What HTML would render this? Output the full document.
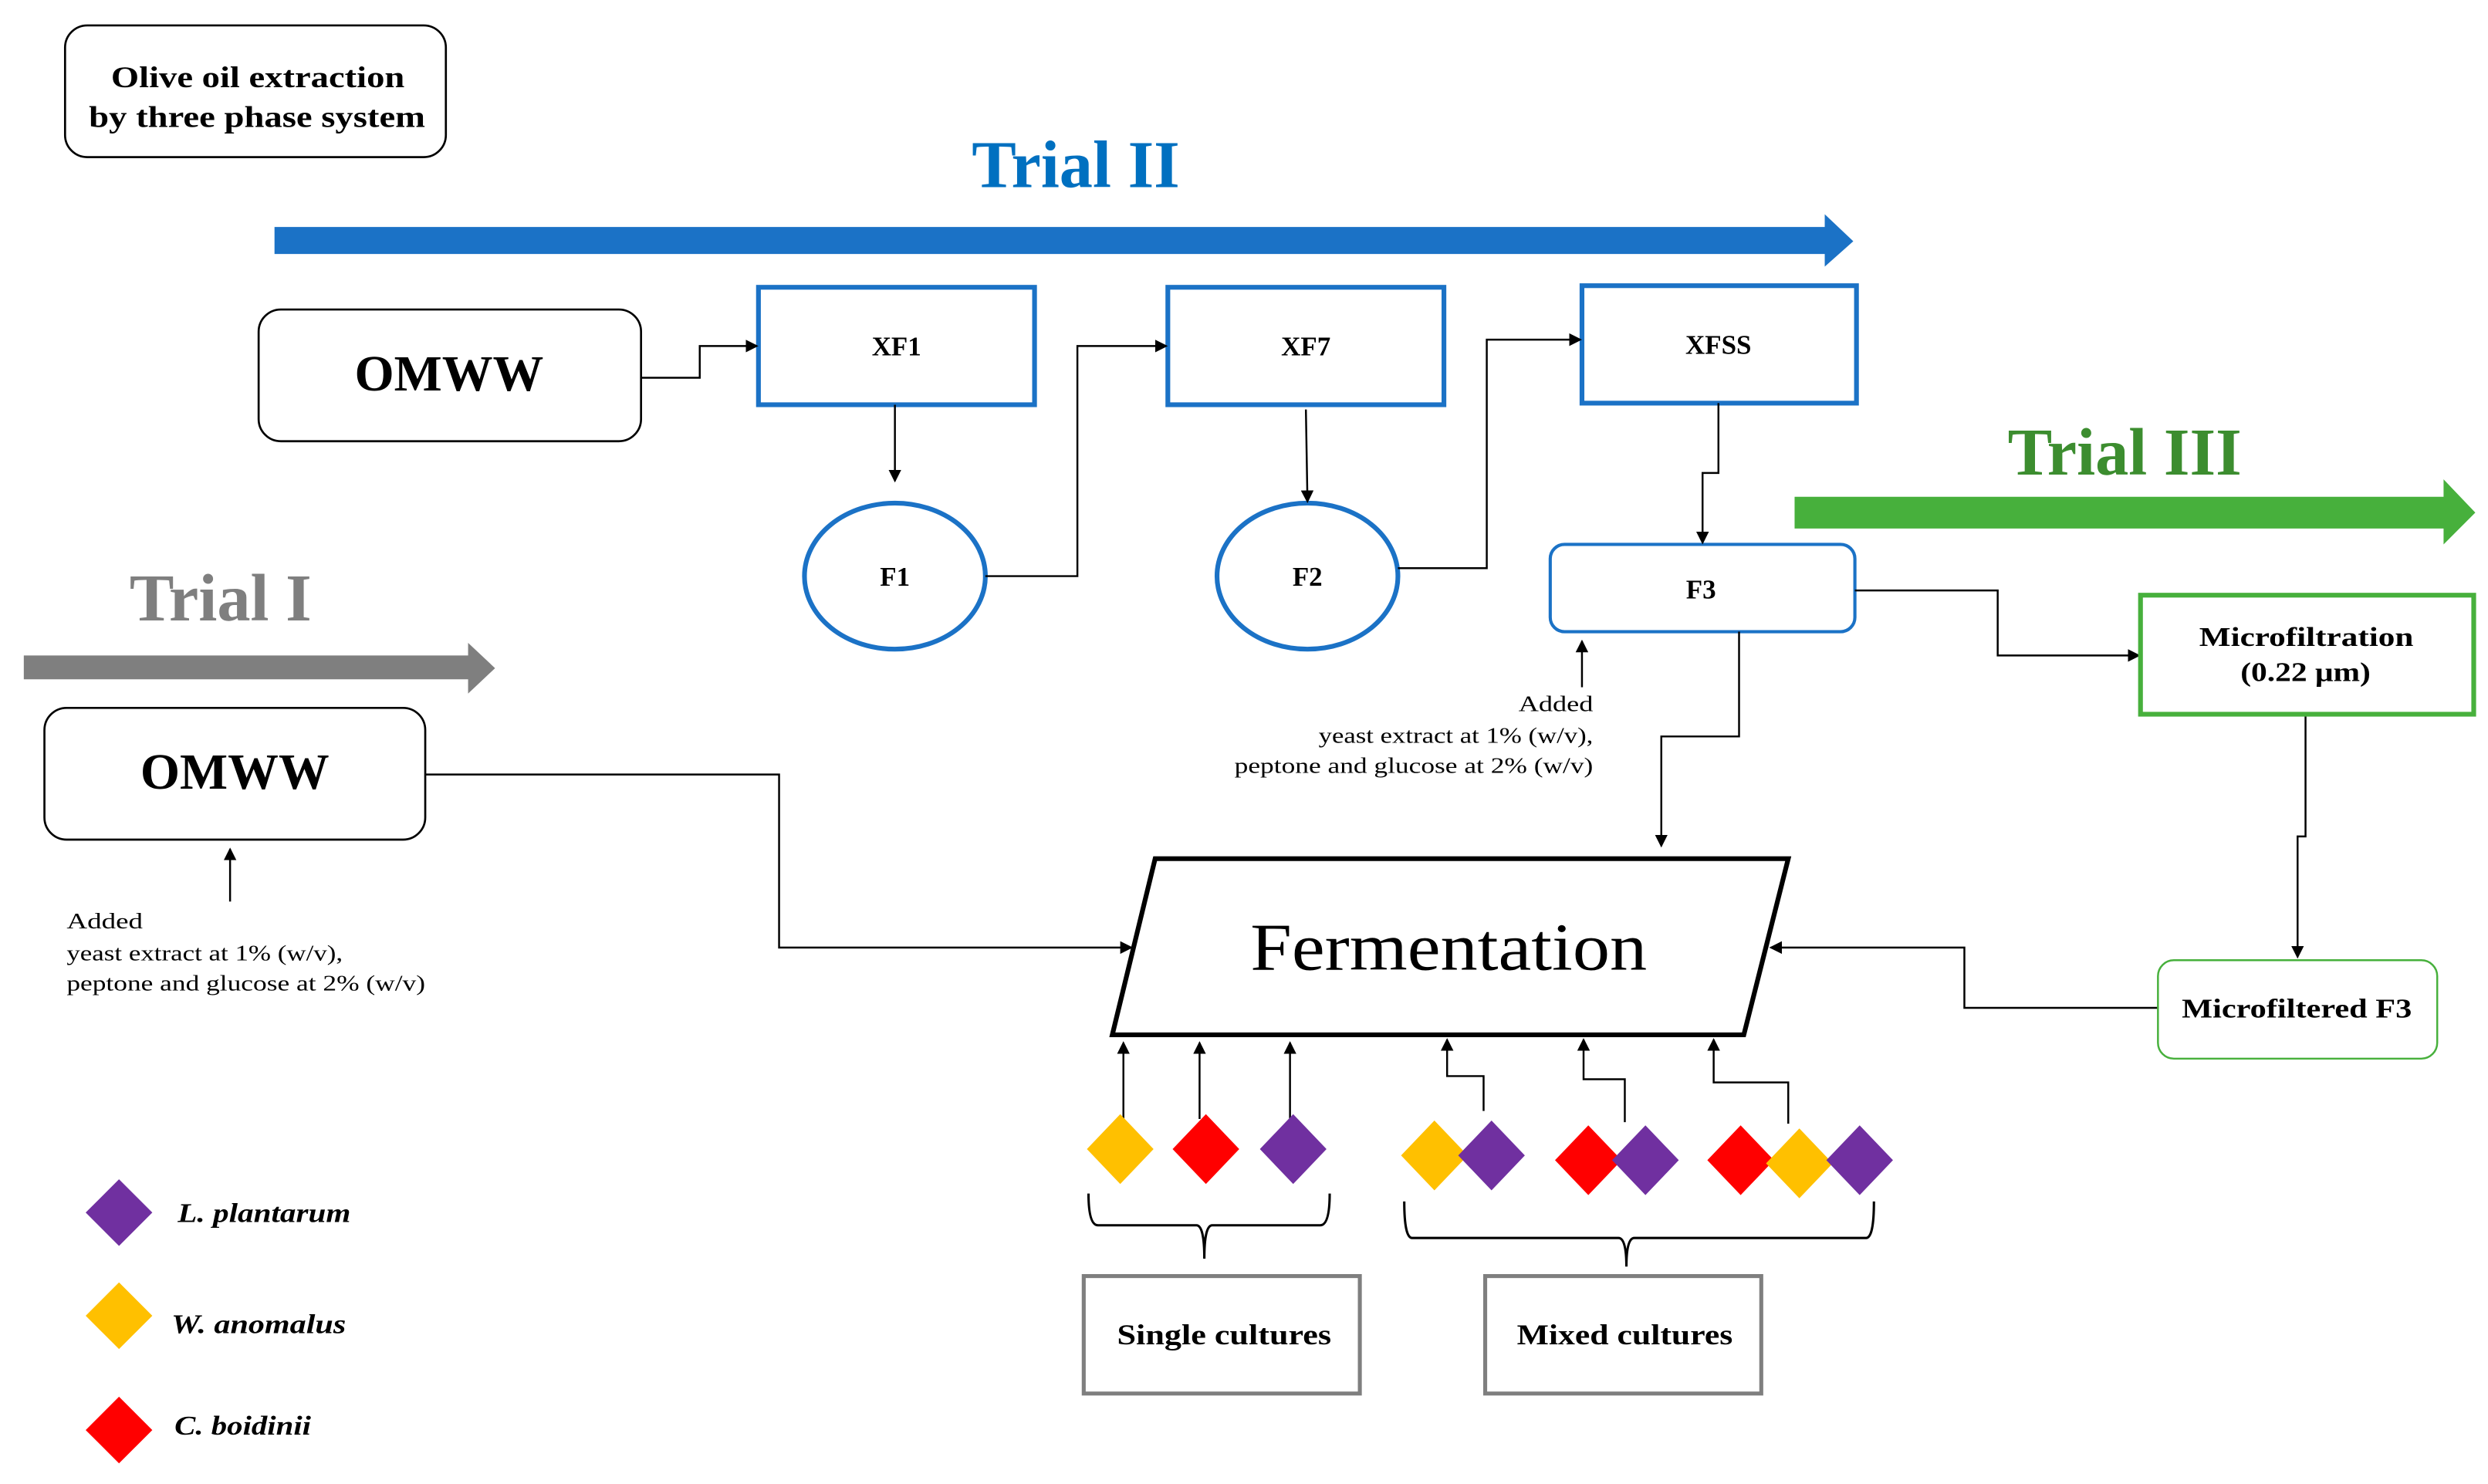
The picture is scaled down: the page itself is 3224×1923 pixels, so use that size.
<!DOCTYPE html>
<html><head><meta charset="utf-8"><style>
html,body{margin:0;padding:0;background:#fff;}
svg{display:block;}
text{font-family:"Liberation Serif",serif;}
</style></head><body>
<svg width="3224" height="1923" viewBox="0 0 1568 935" preserveAspectRatio="none" xmlns="http://www.w3.org/2000/svg">
<defs>
<marker id="ah" markerWidth="8" markerHeight="8" refX="7" refY="4" orient="auto" markerUnits="userSpaceOnUse">
<path d="M0,0 L8,4 L0,8 z" fill="#000"/>
</marker>
</defs>
<rect width="1568" height="935" fill="#fff"/>

<rect x="41" y="16" width="240" height="83" rx="14" fill="#fff" stroke="#000" stroke-width="1.3"/>
<text x="70" y="55" font-size="19" font-weight="bold" textLength="185" lengthAdjust="spacingAndGlyphs">Olive oil extraction</text>
<text x="56" y="80" font-size="19" font-weight="bold" textLength="212" lengthAdjust="spacingAndGlyphs">by three phase system</text>

<text x="678" y="118" font-size="42" font-weight="bold" fill="#0070c0" text-anchor="middle">Trial II</text>
<polygon points="173,143 1150,143 1150,135 1168,152 1150,168 1150,160 173,160" fill="#1b72c6"/>

<rect x="163" y="195" width="241" height="83" rx="14" fill="#fff" stroke="#000" stroke-width="1.3"/>
<text x="283" y="246" font-size="32" font-weight="bold" text-anchor="middle">OMWW</text>

<rect x="478" y="181" width="174" height="74" fill="#fff" stroke="#1b72c6" stroke-width="3"/>
<text x="565" y="224" font-size="17" font-weight="bold" text-anchor="middle">XF1</text>
<rect x="736" y="181" width="174" height="74" fill="#fff" stroke="#1b72c6" stroke-width="3"/>
<text x="823" y="224" font-size="17" font-weight="bold" text-anchor="middle">XF7</text>
<rect x="997" y="180" width="173" height="74" fill="#fff" stroke="#1b72c6" stroke-width="3"/>
<text x="1083" y="223" font-size="17" font-weight="bold" text-anchor="middle">XFSS</text>

<ellipse cx="564" cy="363" rx="57" ry="46" fill="#fff" stroke="#1b72c6" stroke-width="3"/>
<text x="564" y="369" font-size="17" font-weight="bold" text-anchor="middle">F1</text>
<ellipse cx="824" cy="363" rx="57" ry="46" fill="#fff" stroke="#1b72c6" stroke-width="3"/>
<text x="824" y="369" font-size="17" font-weight="bold" text-anchor="middle">F2</text>

<rect x="977" y="343" width="192" height="55" rx="9" fill="#fff" stroke="#1b72c6" stroke-width="2"/>
<text x="1072" y="377" font-size="17" font-weight="bold" text-anchor="middle">F3</text>

<g fill="none" stroke="#000" stroke-width="1.2">
<polyline points="404,238 441,238 441,218 477,218" marker-end="url(#ah)"/>
<polyline points="564,255 564,303" marker-end="url(#ah)"/>
<polyline points="621,363 679,363 679,218 735,218" marker-end="url(#ah)"/>
<polyline points="823,258 824,316" marker-end="url(#ah)"/>
<polyline points="881,358 937,358 937,214 996,214" marker-end="url(#ah)"/>
<polyline points="1083,254 1083,298 1073,298 1073,342" marker-end="url(#ah)"/>
<polyline points="1169,372 1259,372 1259,413 1348,413" marker-end="url(#ah)"/>
<polyline points="997,433 997,404" marker-end="url(#ah)"/>
<polyline points="1096,398 1096,464 1047,464 1047,533" marker-end="url(#ah)"/>
<polyline points="145,568 145,535" marker-end="url(#ah)"/>
<polyline points="268,488 491,488 491,597 713,597" marker-end="url(#ah)"/>
<polyline points="1453,450 1453,527 1448,527 1448,603" marker-end="url(#ah)"/>
<polyline points="1360,635 1238,635 1238,597 1116,597" marker-end="url(#ah)"/>
<polyline points="708,705 708,657" marker-end="url(#ah)"/>
<polyline points="756,705 756,657" marker-end="url(#ah)"/>
<polyline points="813,705 813,657" marker-end="url(#ah)"/>
<polyline points="935,700 935,678 912,678 912,655" marker-end="url(#ah)"/>
<polyline points="1024,707 1024,680 998,680 998,655" marker-end="url(#ah)"/>
<polyline points="1127,708 1127,682 1080,682 1080,655" marker-end="url(#ah)"/>
</g>

<text x="1339" y="299" font-size="42" font-weight="bold" fill="#3c8d2f" text-anchor="middle">Trial III</text>
<polygon points="1131,313 1540,313 1540,302 1560,323 1540,343 1540,333 1131,333" fill="#47b03c"/>
<rect x="1349" y="375" width="210" height="75" fill="#fff" stroke="#47b03c" stroke-width="3"/>
<text x="1386" y="407" font-size="17" font-weight="bold" textLength="135" lengthAdjust="spacingAndGlyphs">Microfiltration</text>
<text x="1412" y="429" font-size="17" font-weight="bold" textLength="82" lengthAdjust="spacingAndGlyphs">(0.22 μm)</text>
<rect x="1360" y="605" width="176" height="62" rx="10" fill="#fff" stroke="#47b03c" stroke-width="1.2"/>
<text x="1375" y="641" font-size="17" font-weight="bold" textLength="145" lengthAdjust="spacingAndGlyphs">Microfiltered F3</text>

<g font-size="14">
<text x="957" y="448" textLength="47" lengthAdjust="spacingAndGlyphs">Added</text>
<text x="831" y="468" textLength="173" lengthAdjust="spacingAndGlyphs">yeast extract at 1% (w/v),</text>
<text x="778" y="487" textLength="226" lengthAdjust="spacingAndGlyphs">peptone and glucose at 2% (w/v)</text>
</g>

<text x="139" y="391" font-size="42" font-weight="bold" fill="#7f7f7f" text-anchor="middle">Trial I</text>
<polygon points="15,413 295,413 295,405 312,421 295,437 295,428 15,428" fill="#7f7f7f"/>
<rect x="28" y="446" width="240" height="83" rx="14" fill="#fff" stroke="#000" stroke-width="1.3"/>
<text x="148" y="497" font-size="32" font-weight="bold" text-anchor="middle">OMWW</text>
<g font-size="14">
<text x="42" y="585" textLength="48" lengthAdjust="spacingAndGlyphs">Added</text>
<text x="42" y="605" textLength="174" lengthAdjust="spacingAndGlyphs">yeast extract at 1% (w/v),</text>
<text x="42" y="624" textLength="226" lengthAdjust="spacingAndGlyphs">peptone and glucose at 2% (w/v)</text>
</g>

<polygon points="728,541 1127,541 1099,652 701,652" fill="#fff" stroke="#000" stroke-width="3"/>
<text x="788" y="611" font-size="42" textLength="250" lengthAdjust="spacingAndGlyphs">Fermentation</text>

<g>
<polygon points="706,702 727,724 706,746 685,724" fill="#ffc000"/>
<polygon points="760,702 781,724 760,746 739,724" fill="#ff0000"/>
<polygon points="815,702 836,724 815,746 794,724" fill="#7030a0"/>
<polygon points="904,706 925,728 904,750 883,728" fill="#ffc000"/>
<polygon points="940,706 961,728 940,750 919,728" fill="#7030a0"/>
<polygon points="1001,709 1022,731 1001,753 980,731" fill="#ff0000"/>
<polygon points="1037,709 1058,731 1037,753 1016,731" fill="#7030a0"/>
<polygon points="1097,709 1118,731 1097,753 1076,731" fill="#ff0000"/>
<polygon points="1134,711 1155,733 1134,755 1113,733" fill="#ffc000"/>
<polygon points="1172,709 1193,731 1172,753 1151,731" fill="#7030a0"/>
</g>

<g fill="none" stroke="#000" stroke-width="1.5">
<path d="M686,752 Q686,772 692,772 L754,772 Q759,772 759,793 Q759,772 764,772 L832,772 Q838,772 838,752"/>
<path d="M885,757 Q885,780 890,780 L1020,780 Q1025,780 1025,798 Q1025,780 1030,780 L1176,780 Q1181,780 1181,757"/>
</g>

<rect x="683" y="804" width="174" height="74" fill="#fff" stroke="#7f7f7f" stroke-width="2.5"/>
<text x="704" y="847" font-size="18" font-weight="bold" textLength="135" lengthAdjust="spacingAndGlyphs">Single cultures</text>
<rect x="936" y="804" width="174" height="74" fill="#fff" stroke="#7f7f7f" stroke-width="2.5"/>
<text x="956" y="847" font-size="18" font-weight="bold" textLength="136" lengthAdjust="spacingAndGlyphs">Mixed cultures</text>

<polygon points="75,743 96,764 75,785 54,764" fill="#7030a0"/>
<polygon points="75,808 96,829 75,850 54,829" fill="#ffc000"/>
<polygon points="75,880 96,901 75,922 54,901" fill="#ff0000"/>
<g font-size="17" font-weight="bold" font-style="italic">
<text x="112" y="770" textLength="109" lengthAdjust="spacingAndGlyphs">L. plantarum</text>
<text x="108" y="840" textLength="110" lengthAdjust="spacingAndGlyphs">W. anomalus</text>
<text x="110" y="904" textLength="86" lengthAdjust="spacingAndGlyphs">C. boidinii</text>
</g>
</svg>
</body></html>
